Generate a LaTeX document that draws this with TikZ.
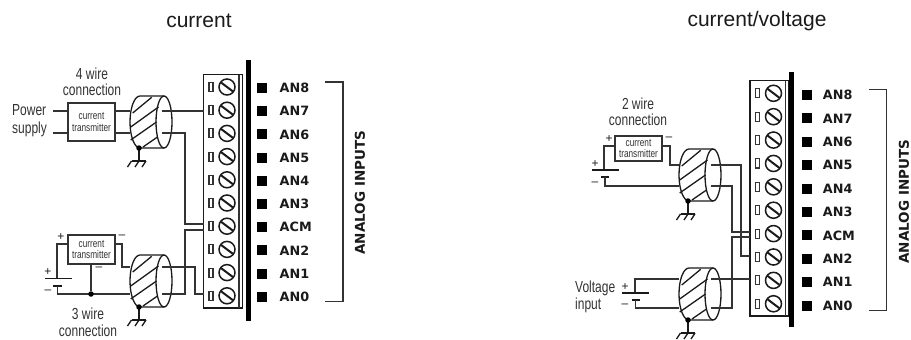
\documentclass[tikz,border=0pt]{standalone}
\usepackage{xcolor}
\usepackage{fontspec}
\setmainfont{Liberation Sans}
\newfontfamily\narrowfont{Liberation Sans}[FakeStretch=0.75]
\newfontfamily\pinfont{DejaVu Sans}[BoldFont={DejaVu Sans Bold}]
\usetikzlibrary{calc}
\definecolor{ink}{HTML}{1A1A1A}
\definecolor{wirec}{HTML}{333333}
\tikzset{
  wire/.style={draw=wirec, line width=1.1pt},
  plate/.style={draw=ink, line width=1.3pt},
  txbox/.style={draw=wirec, line width=1.1pt, fill=white, minimum width=47pt, inner sep=0pt, align=center, font=\narrowfont\fontsize{11}{11.5}\selectfont, text=wirec},
  lbl/.style={text=wirec, font=\narrowfont\fontsize{16}{16.5}\selectfont, align=center, inner sep=0pt},
  sign/.style={text=ink, font=\fontsize{12}{12}\selectfont, inner sep=0pt},
  title/.style={text=ink, font=\fontsize{21}{24}\selectfont, inner sep=0pt},
  pin/.style={text=ink, font=\pinfont\bfseries\fontsize{12.8}{14}\selectfont, anchor=west, inner sep=0pt},
  bus/.style={text=ink, font=\pinfont\bfseries\fontsize{13.5}{14}\selectfont, inner sep=0pt, rotate=90},
  gdot/.style={circle, fill=black, inner sep=0pt, minimum size=5.5pt},
  shield/.pic={
    \draw[plate] (34,0) -- (10,0) arc[start angle=-90, end angle=-270, x radius=10, y radius=26] -- (34,52);
    \draw[plate] (34,26) ellipse[x radius=8, y radius=26];
    \draw[plate] (2.7,17) -- (21.7,1.3) (0.7,31) -- (28.5,11) (0.7,44) -- (26.5,26) (13,51) -- (27.5,41);
    \draw[plate] (9,52) -- (9,65) (1.5,65) -- (16,65);
    \foreach \tx in {1.5,9,16} \draw[plate] (\tx,65) -- ++(-4,6);
    \node[gdot] at (9,52) {};
  },
  strip/.pic={
    \draw[plate] (0,0) rectangle (39,233.5);
    \draw[wire] (35.5,0) -- (35.5,233.5);
    \foreach \k in {0,...,9} {
      \draw[wire] (5.5,8+\k*23.2) rectangle ++(4,9);
      \draw[line width=1.5pt, ink] (23.5,12.5+\k*23.2) circle (8);
      \draw[line width=2pt, ink] (17.5,8+\k*23.2) -- (29.5,17+\k*23.2);
    }
  },
}
\begin{document}
\begin{tikzpicture}[x=1pt,y=-1pt]
  \useasboundingbox (0,0) rectangle (911,340);

  \node[title] (titleA) at (199,21) {current};
  \node[title] (titleB) at (757,21) {current/voltage};

  % left terminal strip
  \pic at (203.5,74.5) {strip};
  \fill[black] (245.5,60) rectangle (250.5,320.7);
  \foreach \k/\nm in {0/AN8,1/AN7,2/AN6,3/AN5,4/AN4,5/AN3,6/ACM,7/AN2,8/AN1,9/AN0} {
    \fill[black] (257,83+\k*23.2) rectangle ++(10,10);
    \node[pin] (L\nm) at (279.5,88+\k*23.2) {\nm};
  }
  \draw[wire] (325,82) -- (343,82) -- (343,301.5) -- (325,301.5);
  \node[bus] (Lbus) at (360,192.7) {ANALOG INPUTS};

  % right terminal strip
  \pic[yscale=1.008] at (750,80.7) {strip};
  \fill[black] (789.2,72) rectangle (794.2,326.7);
  \foreach \k/\nm in {0/AN8,1/AN7,2/AN6,3/AN5,4/AN4,5/AN3,6/ACM,7/AN2,8/AN1,9/AN0} {
    \fill[black] (801.5,90+\k*23.4) rectangle ++(10,10);
    \node[pin] (R\nm) at (822.7,95+\k*23.4) {\nm};
  }
  \draw[wire] (869,89.5) -- (886.7,89.5) -- (886.7,310.5) -- (869,310.5);
  \node[bus] (Rbus) at (904,201.7) {ANALOG INPUTS};

  % 4 wire
  \node[lbl] (four) at (92,82) {4 wire\\connection};
  \node[lbl, anchor=west, align=left, font=\narrowfont\fontsize{16}{18}\selectfont] (power) at (12,121) {Power\\supply};
  \node[txbox, minimum height=38pt] (tx4) at (91.5,122) {current\\transmitter};
  \pic (shA) at (130,96) {shield};
  \draw[wire] (53,111) -- (tx4.west |- 0,111) (53,133) -- (tx4.west |- 0,133);
  \draw[wire] (tx4.east |- 0,111) -- (130,111) (tx4.east |- 0,133) -- (130,133);
  \draw[wire] (162,111) -- (203.5,111);
  \draw[wire] (162,133) -- (185,133) -- (185,224) -- (203.5,224);

  % 3 wire
  \node[lbl] (three) at (88,322.5) {3 wire\\connection};
  \node[txbox, minimum height=29pt] (tx3) at (91.5,249.5) {current\\transmitter};
  \pic (shB) at (130,255) {shield};
  \draw[wire] (tx3.west |- 0,244) -- (57,244) -- (57,278.5);
  \draw[plate] (45,278.5) -- (72,278.5) (53,286) -- (62,286);
  \draw[wire] (57.5,286) -- (57.5,294) -- (130,294);
  \node[gdot] (jn3) at (91,294) {};
  \draw[wire] (tx3.south -| jn3) -- (jn3);
  \draw[wire] (tx3.east |- 0,244) -- (122,244) -- (122,267) -- (130,267);
  \draw[wire] (162,267) -- (195,267) -- (195,294) -- (203.5,294);
  \draw[wire] (162,294) -- (185,294) -- (185,230) -- (203.5,230);
  \node[sign] (p3) at (61,237) {+};
  \node[sign] (m3) at (122,237) {--};
  \node[sign] (s3) at (99,269) {--};
  \node[sign] (bp3) at (48,272) {+};
  \node[sign] (bm3) at (48,292) {--};

  % 2 wire
  \node[lbl] (two) at (638,112) {2 wire\\connection};
  \node[txbox, minimum height=25pt] (tx2) at (638.5,148.5) {current\\transmitter};
  \pic (shC) at (679,149) {shield};
  \draw[wire] (tx2.west |- 0,146) -- (604,146) -- (604,170);
  \draw[plate] (592,170) -- (619,170) (601,177) -- (609,177);
  \draw[wire] (605,177) -- (605,186) -- (679,186);
  \draw[wire] (tx2.east |- 0,146) -- (670,146) -- (670,165) -- (679,165);
  \draw[wire] (711,165) -- (741,165) -- (741,256) -- (750,256);
  \draw[wire] (711,186) -- (732,186) -- (732,232) -- (750,232);
  \node[sign] (p2) at (609,139) {+};
  \node[sign] (m2) at (669,139) {--};
  \node[sign] (bp2) at (595,164) {+};
  \node[sign] (bm2) at (595,184) {--};

  % voltage input
  \node[lbl, anchor=west, align=left] (volt) at (575,297) {Voltage\\input};
  \pic (shD) at (679,268) {shield};
  \draw[wire] (679,279) -- (635,279) -- (635,293);
  \draw[plate] (622,293) -- (649,293) (632,300) -- (640,300);
  \draw[wire] (635.5,300) -- (635.5,308) -- (679,308);
  \draw[wire] (711,279) -- (750,279);
  \draw[wire] (711,308) -- (732,308) -- (732,237) -- (750,237);
  \node[sign] (bp4) at (625,287) {+};
  \node[sign] (bm4) at (625,306) {--};
\end{tikzpicture}
\end{document}
